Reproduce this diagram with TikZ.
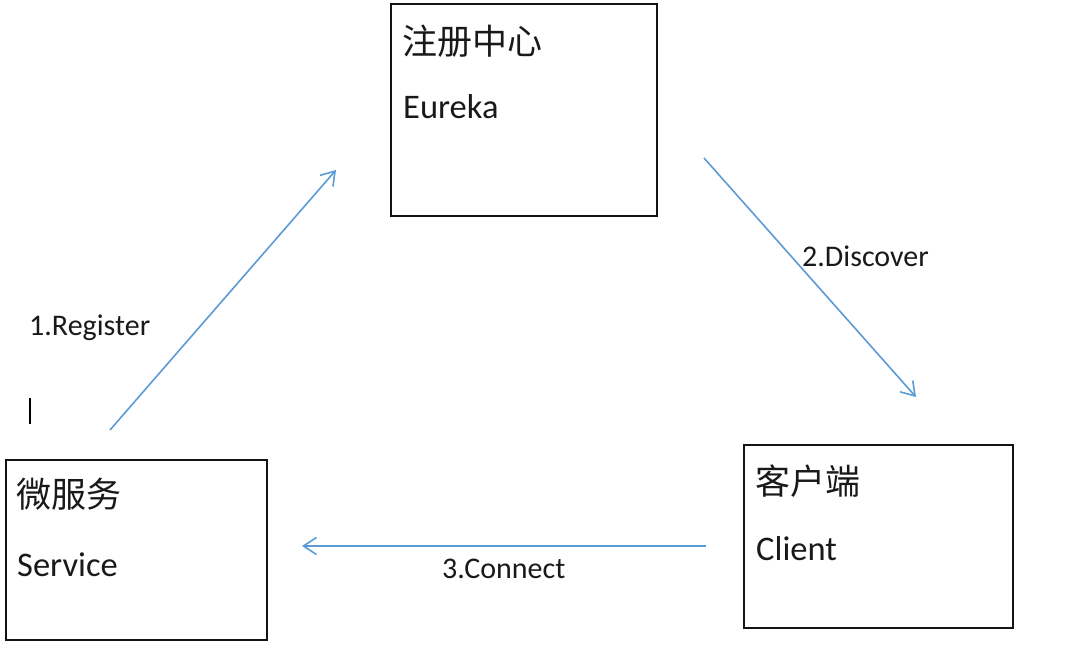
\documentclass[tikz,border=0pt]{standalone}
\usepackage{fontspec}
\setmainfont{Carlito}
\newfontfamily\cjk{Noto Sans CJK SC}
\usetikzlibrary{arrows.meta}
\definecolor{eFrame}{RGB}{20,20,20}
\definecolor{eArrow}{RGB}{91,155,213}
\definecolor{eText}{RGB}{25,25,25}
\tikzset{
	box/.style={draw=eFrame,line width=1.5pt,inner sep=0pt},
	flow/.style={draw=eArrow,line width=1.6pt,-{Straight Barb[length=13pt,width=17pt,line width=1.6pt]}},
	zhtext/.style={anchor=west,inner sep=0pt,text=eText,font=\cjk\fontsize{35}{40}\selectfont},
	entext/.style={anchor=base west,inner sep=0pt,text=eText,font=\fontsize{34.5}{40}\selectfont},
	steplabel/.style={anchor=base west,inner sep=0pt,text=eText,font=\fontsize{30}{34}\selectfont}
}
\begin{document}
\begin{tikzpicture}[x=1pt,y=-1pt]
			\useasboundingbox (0,0) rectangle (1070,666);
			\node[box,minimum width=266pt,minimum height=212pt] (eureka) at (524,110) {};
			\node[box,minimum width=261pt,minimum height=180pt] (service) at (136.5,550) {};
			\node[box,minimum width=269pt,minimum height=183pt] (client) at (878.5,536.5) {};
			\node[zhtext] (eurekazh) at (402,41) {注册中心};
			\node[entext] (eurekaen) at (403,119) {Eureka};
			\node[zhtext] (servicezh) at (16,494) {微服务};
			\node[entext] (serviceen) at (17,576) {Service};
			\node[zhtext] (clientzh) at (755,481) {客户端};
			\node[entext] (clienten) at (756,560) {Client};
			\coordinate (regA) at (110,430);
			\coordinate (regB) at (336,170);
			\coordinate (disA) at (704,158);
			\coordinate (disB) at (916,397);
			\coordinate (conA) at (706,546);
			\coordinate (conB) at (302,546);
			\draw[flow] (regA) -- (regB);
			\draw[flow] (disA) -- (disB);
			\draw[flow] (conA) -- (conB);
			\node[steplabel] (register) at (29,335) {1.Register};
			\node[steplabel] (discover) at (802,266) {2.Discover};
			\node[steplabel] (connect) at (442,578) {3.Connect};
			\coordinate (caretA) at (30,398);
			\coordinate (caretB) at (30,424);
			\draw[line width=2.6pt,black] (caretA) -- (caretB);
		\end{tikzpicture}
\end{document}
